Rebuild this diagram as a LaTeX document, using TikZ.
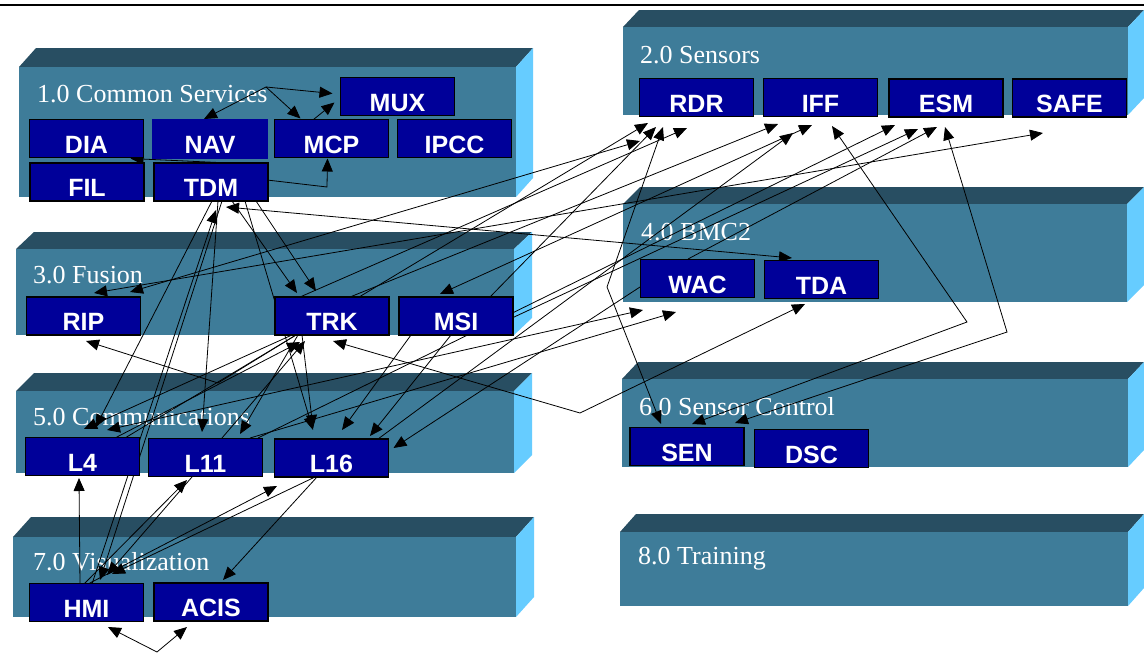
\documentclass[tikz,border=0pt]{standalone}
\usepackage{fontspec}
\setmainfont{Liberation Serif}
\newfontfamily\boxfont{Liberation Sans}
\usetikzlibrary{arrows.meta,calc}
\definecolor{slabfront}{RGB}{62,124,153}
\definecolor{slabtop}{RGB}{40,78,98}
\definecolor{slabside}{RGB}{102,204,255}
\definecolor{unitblue}{RGB}{0,0,153}
\pgfdeclarelayer{slabs}
\pgfdeclarelayer{wires}
\pgfsetlayers{slabs,wires,main}

% a 3-D slab: front x1,y1,x2,y2 and depth dx, dy
\newcommand\slabdraw[6]{%
  \fill[slabtop] (#1,#2) -- ({#1+#5},{#2-#6}) -- ({#3+#5},{#2-#6}) -- (#3,#2) -- cycle;
  \fill[slabside] (#3,#2) -- ({#3+#5},{#2-#6}) -- ({#3+#5},{#4-#6}) -- (#3,#4) -- cycle;
  \fill[slabfront] (#1,#2) rectangle (#3,#4);
}

\tikzset{
  unit/.style={draw=black, line width=1.2pt, fill=unitblue, text=white,
    minimum width=114pt, minimum height=38pt, inner sep=0pt,
    text height=29pt, text depth=0pt,
    font=\boxfont\bfseries\fontsize{25}{25}\selectfont},
  slablabel/.style={anchor=base west, inner sep=0pt, text=white,
    font=\fontsize{26}{26}\selectfont},
  wire/.style={draw=black, line width=0.8pt},
  arr/.style={wire, -{Triangle[length=13pt,width=11pt]}},
  arrs/.style={wire, {Triangle[length=13pt,width=11pt]}-{Triangle[length=13pt,width=11pt]}},
}

\begin{document}
\begin{tikzpicture}[x=1pt,y=-1pt]
\useasboundingbox (0,0) rectangle (1144,653);

\begin{pgfonlayer}{slabs}
  \fill[white] (0,0) rectangle (1144,653);
  \draw[line width=2pt] (0,5) -- (1144,5);
  \slabdraw{19}{67}{516}{197}{17}{19}
  \slabdraw{623}{27}{1128}{115}{16}{17}
  \slabdraw{16}{249}{514}{335}{18}{17}
  \slabdraw{623}{204}{1127}{302}{17}{17}
  \slabdraw{16}{391}{514}{473}{18}{18}
  \slabdraw{622}{379}{1128}{467}{16}{17}
  \slabdraw{13}{537}{516}{617}{18}{20}
  \slabdraw{620}{532}{1128}{606}{16}{18}
  \node[slablabel] (lab1) at (37,102) {1.0 Common Services};
  \node[slablabel] (lab2) at (640,63) {2.0 Sensors};
  \node[slablabel] (lab3) at (33,283) {3.0 Fusion};
  \node[slablabel] (lab4) at (641,240) {4.0 BMC2};
  \node[slablabel] (lab5) at (33,425) {5.0 Communications};
  \node[slablabel] (lab6) at (639,415) {6.0 Sensor Control};
  \node[slablabel] (lab7) at (33,570) {7.0 Visualization};
  \node[slablabel] (lab8) at (638,564) {8.0 Training};
\end{pgfonlayer}

% 1.0 Common Services
\node[unit] (MUX)  at (397.5,96.5) {MUX};
\node[unit] (DIA)  at (86.5,138.5) {DIA};
\node[unit,draw=unitblue] (NAV)  at (210,139) {NAV};
\node[unit] (MCP)  at (331.5,138.5) {MCP};
\node[unit] (IPCC) at (454.5,138.5) {IPCC};
\node[unit] (FIL)  at (87,182) {FIL};
\node[unit] (TDM)  at (211,182) {TDM};
% 2.0 Sensors
\node[unit] (RDR)  at (696.5,97.5) {RDR};
\node[unit] (IFF)  at (820.5,97.5) {IFF};
\node[unit] (ESM)  at (946,98) {ESM};
\node[unit] (SAFE) at (1069.5,98) {SAFE};
% 3.0 Fusion
\node[unit] (RIP)  at (83.5,316) {RIP};
\node[unit] (TRK)  at (332,316) {TRK};
\node[unit] (MSI)  at (456,316) {MSI};
% 4.0 BMC2
\node[unit] (WAC)  at (697.5,278.5) {WAC};
\node[unit] (TDA)  at (821.5,279.5) {TDA};
% 5.0 Communications
\node[unit] (L4)   at (82.5,456.5) {L4};
\node[unit] (L11)  at (205.5,457.5) {L11};
\node[unit] (L16)  at (331.5,458) {L16};
% 6.0 Sensor Control
\node[unit] (SEN)  at (687,446.5) {SEN};
\node[unit] (DSC)  at (811.5,448.5) {DSC};
% 7.0 Visualization
\node[unit] (HMI)  at (86.5,602.5) {HMI};
\node[unit] (ACIS) at (211,602) {ACIS};

% bend points of the routed links
\coordinate (jNav) at (266,87);
\coordinate (jMcp) at (327,187);
\coordinate (jRip) at (218,383);
\coordinate (jTda) at (580,413);
\coordinate (jRdr) at (607,287);
\coordinate (jIff) at (967,322);
\coordinate (jEsm) at (1007,332);
\coordinate (jVis) at (157,652);

\begin{pgfonlayer}{wires}
  % inside Common Services
  \draw[arrs] ($(NAV)+(-6,-20)$) -- (jNav) -- ($(MUX)+(-65,-3)$);
  \draw[arr] (jNav) -- ($(MCP)+(-31,-20)$);
  \draw[arr] ($(MCP)+(-18,-19)$) -- ($(MUX)+(-63,6)$);
  \draw[arr] ($(TDM)+(18,-19)$) -- ($(DIA)+(44,20)$);
  \draw[arr] ($(TDM)+(56,-2)$) -- (jMcp) -- ($(MCP)+(-4,20)$);

  % from / to TDM
  \draw[arr] ($(TDM)+(1,19)$) -- ($(L4)+(13,-29)$);
  \draw[arr] ($(TDM)+(7,19)$) -- ($(L11)+(-3.5,-25.5)$);
  \draw[arr] ($(TDM)+(11,19)$) -- ($(HMI)+(13.5,-22.5)$);
  \draw[arr] ($(HMI)+(5.5,-18.5)$) -- ($(TDM)+(5,28)$);
  \draw[arr] ($(TDM)+(21,19)$) -- ($(TRK)+(-35,-23)$);
  \draw[arr] ($(TDM)+(45,19)$) -- ($(TRK)+(-16,-25)$);
  \draw[arr] ($(TDM)+(34,19)$) -- ($(L16)+(-18.5,-28)$);
  \draw[arrs] ($(TDM)+(15,25)$) -- ($(TDA)+(-29.5,-21.5)$);

  % from / to TRK
  \draw[arr] ($(TRK)+(-40,19)$) -- ($(L4)+(1.5,-27.5)$);
  \draw[arr] ($(L4)+(32.5,-18.5)$) -- ($(TRK)+(-32,26)$);
  \draw[arr] ($(L11)+(16.5,-19.5)$) -- ($(TRK)+(-27,25)$);
  \draw[arr] ($(TRK)+(-34,19)$) -- ($(L11)+(34.5,-23.5)$);
  \draw[arr] ($(TRK)+(-30,19)$) -- ($(L16)+(-18.5,-30)$);
  \draw[arr] ($(TRK)+(-36,19)$) -- (jRip) -- ($(RIP)+(2.5,25)$);
  \draw[arrs] ($(TRK)+(1,25)$) -- (jTda) -- ($(TDA)+(-16.5,24.5)$);
  \draw[arr] ($(TRK)+(-32,-19)$) -- ($(RDR)+(-9.5,30.5)$);
  \draw[arr] ($(TRK)+(18,-19)$) -- ($(IFF)+(-42.5,26.5)$);

  % from / to RIP
  \draw[arrs] ($(RIP)+(10.5,-23)$) -- ($(SAFE)+(-26.5,35)$);
  \draw[arrs] ($(RIP)+(46.5,-24)$) -- ($(RDR)+(-56.5,43.5)$);

  % from / to MSI
  \draw[arr] ($(MSI)+(34,-19)$) -- ($(RDR)+(-40.5,29.5)$);
  \draw[arrs] ($(MSI)+(-16,-22)$) -- ($(IFF)+(-8.5,27.5)$);
  \draw[arr] ($(MSI)+(56,2)$) -- ($(ESM)+(-28,31)$);
  \draw[arr] ($(MSI)+(-45,19)$) -- ($(L16)+(10.5,-28)$);
  \draw[arr] ($(MSI)+(-5,19)$) -- ($(L16)+(38.5,-22)$);

  % data links to sensors and BMC2
  \draw[arrs] ($(L4)+(24.5,-26.5)$) -- ($(WAC)+(-54.5,31.5)$);
  \draw[arr] ($(L11)+(44.5,-19.5)$) -- ($(WAC)+(-21.5,33.5)$);
  \draw[arr] ($(L16)+(46.5,-19)$) -- ($(IFF)+(-27.5,35.5)$);
  \draw[arr] ($(L11)+(52.5,-19.5)$) -- ($(ESM)+(-51,27)$);
  \draw[arr] ($(L4)+(42.5,-18.5)$) -- ($(RDR)+(-48.5,25.5)$);
  \draw[arr] ($(WAC)+(-9.5,-19.5)$) -- ($(ESM)+(-9,29)$);
  \draw[arr] ($(WAC)+(-57.5,8.5)$) -- ($(L16)+(62,-10)$);

  % sensors to sensor control
  \draw[arrs] ($(RDR)+(-33.5,29.5)$) -- (jRdr) -- ($(SEN)+(-26,-22.5)$);
  \draw[arrs] ($(IFF)+(11.5,28.5)$) -- (jIff) -- ($(SEN)+(5,-22.5)$);
  \draw[arrs] ($(ESM)+(-1,29)$) -- (jEsm) -- ($(SEN)+(48,-23.5)$);

  % visualization
  \draw[arr] ($(HMI)+(-6.5,-18.5)$) -- ($(L4)+(-3.5,21.5)$);
  \draw[arr] ($(HMI)+(-2.5,-18.5)$) -- ($(L11)+(-18.5,22.5)$);
  \draw[arr] ($(L11)+(-13.5,19.5)$) -- ($(HMI)+(20.5,-27.5)$);
  \draw[arr] ($(HMI)+(1.5,-18.5)$) -- ($(L16)+(-54.5,28)$);
  \draw[arr] ($(L16)+(-16.5,19)$) -- ($(HMI)+(25.5,-28.5)$);
  \draw[arr] ($(L16)+(-14.5,19)$) -- ($(ACIS)+(12,-22)$);
  \draw[arr] (jVis) -- ($(HMI)+(21.5,24.5)$);
  \draw[arr] (jVis) -- ($(ACIS)+(-24,25)$);
\end{pgfonlayer}
\end{tikzpicture}
\end{document}
